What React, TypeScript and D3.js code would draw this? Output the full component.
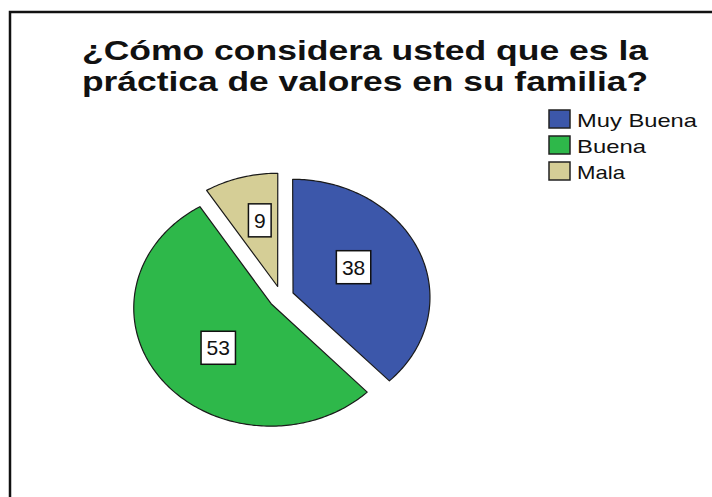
import React from "react";
import * as d3 from "d3";

const categories = ["Muy Buena", "Buena", "Mala"];
const values = [38, 53, 9];
const colors = ["#3c57aa", "#2eb84a", "#d5ce96"];
const titleLines = ["¿Cómo considera usted que es la", "práctica de valores en su familia?"];

const W = 712;
const H = 497;

export default function App() {
  const pie = d3.pie<number>().sort(null).value((d) => d).startAngle(0).endAngle(2 * Math.PI);
  const arcs = pie(values);

  // slightly tilted (perspective) projection of the unit pie onto the page
  const cx = 281.2, cy = 297;
  const ax = 137, ay = 117.8, persp = 0.034;
  const explode = 0.093;
  const proj = (u: number, v: number): [number, number] => {
    const w = 1 - persp * v;
    return [cx + (ax * u) / w, cy + (ay * v) / w];
  };
  const line = d3.line<[number, number]>().curve(d3.curveLinearClosed);

  const slices = arcs.map((a, i) => {
    const mid = (a.startAngle + a.endAngle) / 2;
    const ox = explode * Math.sin(mid), oy = -explode * Math.cos(mid);
    const pts: [number, number][] = [proj(ox, oy)];
    const n = Math.max(8, Math.ceil(((a.endAngle - a.startAngle) * 180) / Math.PI));
    for (let k = 0; k <= n; k++) {
      const t = a.startAngle + ((a.endAngle - a.startAngle) * k) / n;
      pts.push(proj(ox + Math.sin(t), oy - Math.cos(t)));
    }
    const lp = proj(ox + 0.48 * Math.sin(mid), oy - 0.6 * Math.cos(mid));
    return { d: line(pts) as string, lp, i };
  });

  return (
    <svg width={W} height={H} style={{ position: "absolute", left: 0, top: 0, display: "block", background: "#fff" }}>
      <rect x={0} y={0} width={W} height={H} fill="#fff" />
      <path d={`M10,${H + 10} L10,12 L${W + 10},12`} fill="none" stroke="#111" strokeWidth={2.5} />
      {titleLines.map((t, i) => (
        <text key={i} x={82} y={60 + i * 31} textLength={566} lengthAdjust="spacingAndGlyphs"
          fontFamily="'Liberation Sans', Arial, sans-serif" fontWeight="bold" fontSize={28} fill="#111">{t}</text>
      ))}
      {slices.map((s) => (
        <path key={s.i} d={s.d} fill={colors[s.i]} stroke="#1a1a1a" strokeWidth={1.2} strokeLinejoin="round" />
      ))}
      {slices.map((s) => {
        const [x, y] = s.lp;
        const label = String(values[s.i]);
        const bw = label.length * 11.7 + 11;
        const bh = 33;
        return (
          <g key={s.i}>
            <rect x={x - bw / 2} y={y - bh / 2} width={bw} height={bh} fill="#fff" stroke="#111" strokeWidth={1.5} />
            <text x={x} y={y + 7.5} textAnchor="middle" fontFamily="'Liberation Sans', Arial, sans-serif" fontSize={21} fill="#111">{label}</text>
          </g>
        );
      })}
      {categories.map((c, i) => (
        <g key={c}>
          <rect x={549} y={110 + i * 26} width={21} height={18} fill={colors[i]} stroke="#222" strokeWidth={1.5} />
          <text x={577} y={127 + i * 26} fontFamily="'Liberation Sans', Arial, sans-serif" fontSize={19}
            textLength={[120, 69, 48][i]} lengthAdjust="spacingAndGlyphs" fill="#111">{c}</text>
        </g>
      ))}
    </svg>
  );
}
